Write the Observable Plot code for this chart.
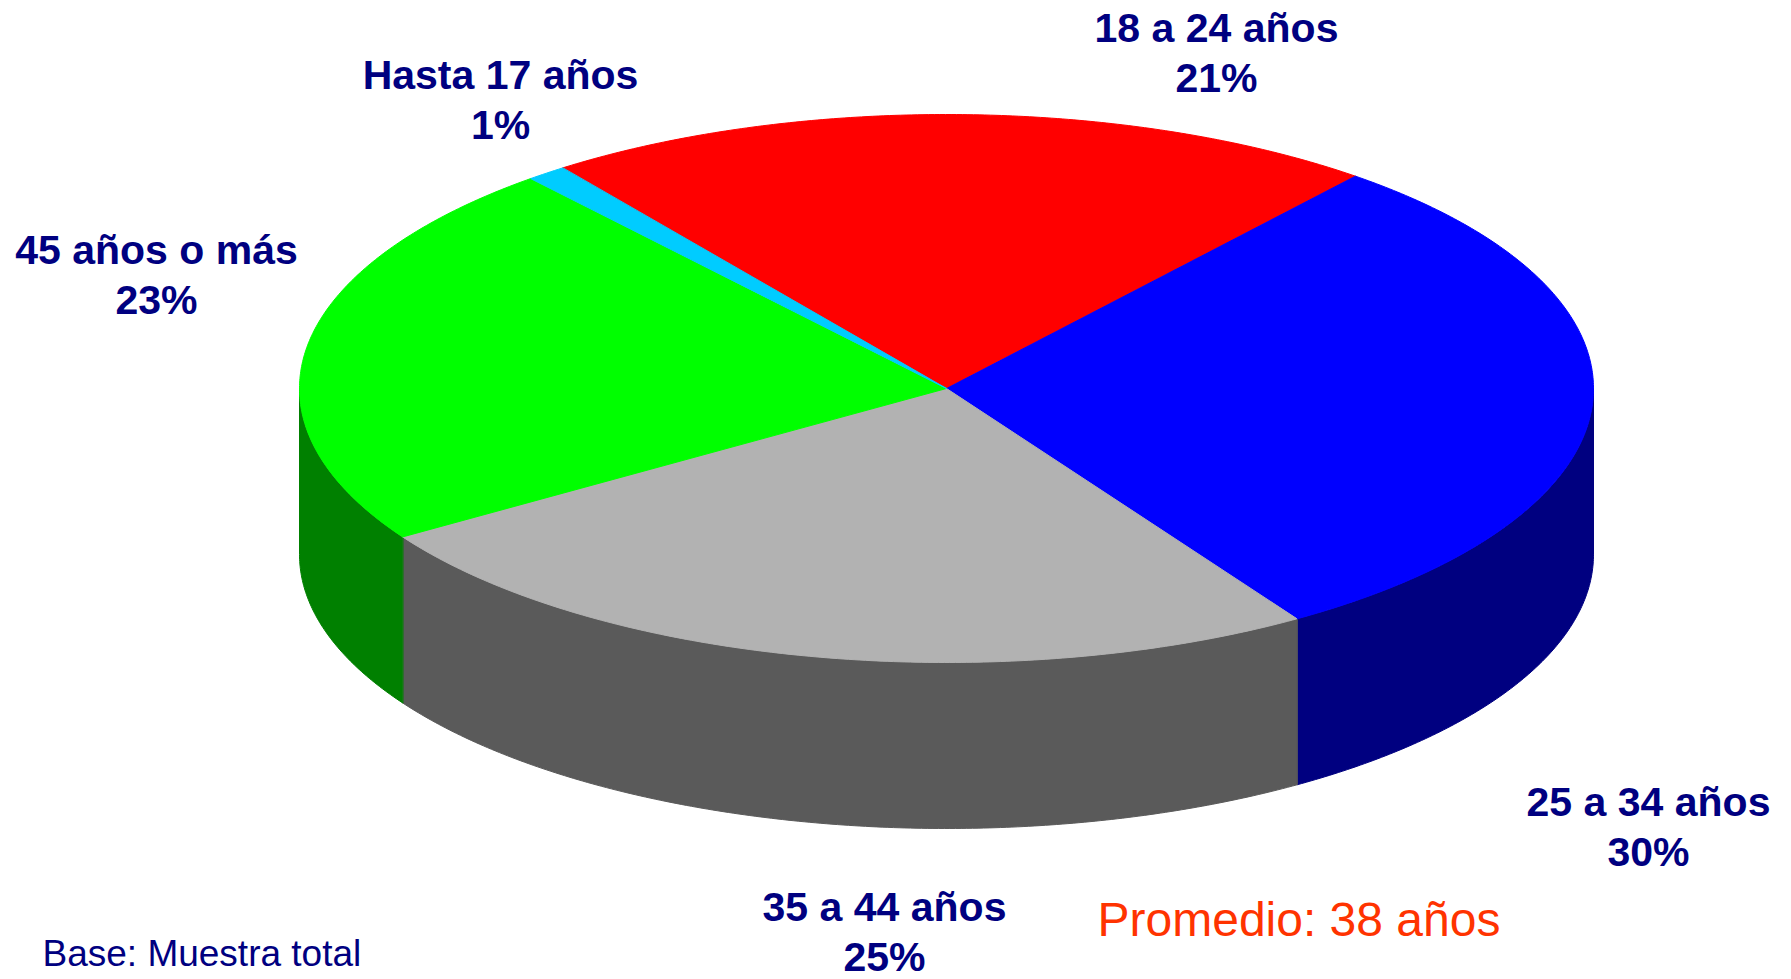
<!DOCTYPE html>
<html>
<head>
<meta charset="utf-8">
<script src="https://cdn.jsdelivr.net/npm/d3@7"></script>
<script src="https://cdn.jsdelivr.net/npm/@observablehq/plot@0.6"></script>
<style>
  html, body { margin: 0; padding: 0; background: #ffffff; }
  #chart { width: 1791px; height: 979px; overflow: hidden; }
</style>
</head>
<body>
<div id="chart"></div>
<script>
// ---- data ----
const categories = ["18 a 24 años", "25 a 34 años", "35 a 44 años", "45 años o más", "Hasta 17 años"];
const values = [21, 30, 25, 23, 1];
const topColors = ["#ff0000", "#0000ff", "#b2b2b2", "#00ff00", "#00ccff"];
const sideColors = ["#800000", "#000080", "#5a5a5a", "#008000", "#006680"];
const footnote = "Base: Muestra total";
const average = "Promedio: 38 años";

// ---- layout ----
const W = 1791, H = 979;
const geom = {cx: 946, cy: 388, rx: 647, ry: 274, depth: 166, start: 233.6};
const labelAnchors = [[1216, 41], [1648, 815], [884, 920], [156, 263], [500, 88]];
const lineGap = 50;
const font = "'Liberation Sans', Arial, Helvetica, sans-serif";
const navy = "#000080";

const rad = d => d * Math.PI / 180;
const pt = (t, dz = 0) => ({x: geom.cx + geom.rx * Math.cos(rad(t)), y: geom.cy + geom.ry * Math.sin(rad(t)) + dz});
function arc(a0, a1, dz = 0) {
  const pts = [];
  const n = Math.max(2, Math.ceil((a1 - a0) / 0.5));
  for (let i = 0; i <= n; i++) pts.push(pt(a0 + (a1 - a0) * i / n, dz));
  return pts;
}

const total = d3.sum(values);
let acc = geom.start;
const slices = values.map((v, i) => {
  const a0 = acc, a1 = acc + v / total * 360;
  acc = a1;
  return {i, a0, a1};
});

const marks = [];
// side walls (front half only: angles within [0,180] mod 360)
for (const s of slices) {
  for (let k = -1; k <= 2; k++) {
    const lo = Math.max(s.a0, 360 * k), hi = Math.min(s.a1, 360 * k + 180);
    if (hi > lo) {
      const poly = [...arc(lo, hi, 0), ...arc(lo, hi, geom.depth).reverse()];
      marks.push(Plot.line(poly, {x: "x", y: "y", curve: "linear-closed",
        fill: sideColors[s.i], stroke: sideColors[s.i], strokeWidth: 1}));
    }
  }
}
// top faces
for (const s of slices) {
  const poly = [{x: geom.cx, y: geom.cy}, ...arc(s.a0, s.a1, 0)];
  marks.push(Plot.line(poly, {x: "x", y: "y", curve: "linear-closed",
    fill: topColors[s.i], stroke: topColors[s.i], strokeWidth: 1}));
}
// labels
const labelRows = slices.map(s => ({
  name: categories[s.i], pct: values[s.i] + "%",
  x: labelAnchors[s.i][0], y: labelAnchors[s.i][1]
}));
marks.push(Plot.text(labelRows, {x: "x", y: "y", text: "name", textAnchor: "middle", lineAnchor: "bottom",
  fill: navy, fontSize: 41, fontWeight: "bold", fontFamily: font}));
marks.push(Plot.text(labelRows, {x: "x", y: d => d.y + lineGap, text: "pct", textAnchor: "middle", lineAnchor: "bottom",
  fill: navy, fontSize: 41, fontWeight: "bold", fontFamily: font}));
marks.push(Plot.text([footnote], {x: () => 42, y: () => 965, text: d => d, textAnchor: "start", lineAnchor: "bottom",
  fill: navy, fontSize: 37, fontFamily: font}));
marks.push(Plot.text([average], {x: () => 1097, y: () => 935, text: d => d, textAnchor: "start", lineAnchor: "bottom",
  fill: "#ff3300", fontSize: 48, fontFamily: font}));

const chart = Plot.plot({
  width: W, height: H,
  margin: 0,
  x: {domain: [0, W], range: [0, W], axis: null},
  y: {domain: [0, H], range: [0, H], axis: null},
  style: {background: "#ffffff", overflow: "visible"},
  marks
});
document.getElementById("chart").appendChild(chart);
</script>
</body>
</html>
